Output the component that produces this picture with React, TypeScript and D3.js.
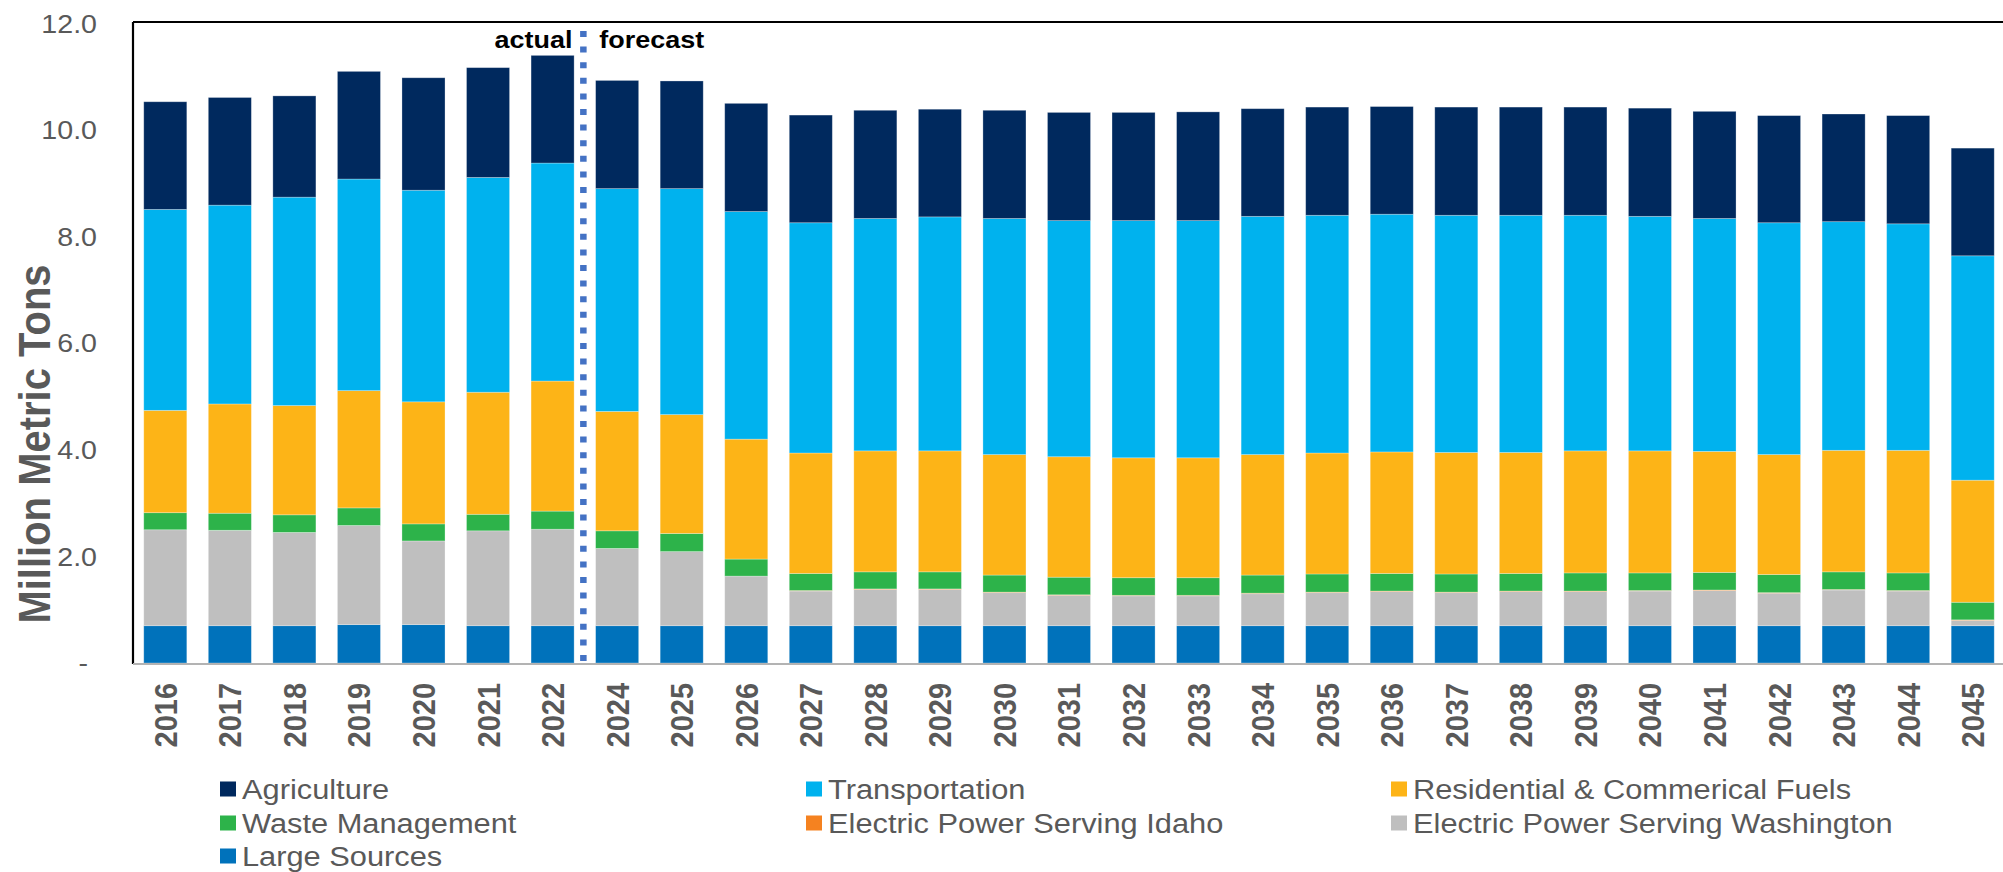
import * as d3 from 'd3'
import React, { useEffect, useRef } from 'react'

const years = [
  '2016', '2017', '2018', '2019', '2020', '2021', '2022', '2024', '2025', '2026',
  '2027', '2028', '2029', '2030', '2031', '2032', '2033', '2034', '2035', '2036',
  '2037', '2038', '2039', '2040', '2041', '2042', '2043', '2044', '2045',
]

// million metric tons
const largeSources = [
  0.7, 0.7, 0.7, 0.72, 0.72, 0.7, 0.7, 0.7, 0.7, 0.7,
  0.7, 0.7, 0.7, 0.7, 0.7, 0.7, 0.7, 0.7, 0.7, 0.7,
  0.7, 0.7, 0.7, 0.7, 0.7, 0.7, 0.7, 0.7, 0.7,
]
const powerWashington = [
  1.8, 1.79, 1.75, 1.86, 1.57, 1.78, 1.81, 1.45, 1.39, 0.93,
  0.65, 0.68, 0.68, 0.62, 0.57, 0.56, 0.56, 0.6, 0.62, 0.64,
  0.62, 0.64, 0.64, 0.65, 0.66, 0.61, 0.67, 0.65, 0.1,
]
const powerIdaho = [
  0, 0, 0, 0, 0, 0, 0, 0, 0, 0,
  0.01, 0.01, 0.01, 0.01, 0.01, 0.01, 0.01, 0.01, 0.01, 0.01,
  0.01, 0.01, 0.01, 0.01, 0.01, 0.01, 0.01, 0.01, 0.01,
]
const waste = [
  0.32, 0.32, 0.33, 0.33, 0.32, 0.31, 0.34, 0.33, 0.34, 0.32,
  0.32, 0.32, 0.32, 0.32, 0.33, 0.33, 0.33, 0.34, 0.34, 0.33,
  0.34, 0.33, 0.34, 0.33, 0.33, 0.34, 0.33, 0.33, 0.33,
]
const residential = [
  1.92, 2.05, 2.05, 2.2, 2.29, 2.29, 2.44, 2.24, 2.23, 2.25,
  2.26, 2.27, 2.27, 2.26, 2.26, 2.25, 2.25, 2.26, 2.27, 2.28,
  2.28, 2.27, 2.29, 2.29, 2.27, 2.25, 2.28, 2.3, 2.29,
]
const transportation = [
  3.77, 3.73, 3.91, 3.97, 3.97, 4.03, 4.09, 4.18, 4.24, 4.27,
  4.32, 4.36, 4.39, 4.43, 4.43, 4.45, 4.45, 4.47, 4.46, 4.46,
  4.45, 4.45, 4.42, 4.4, 4.37, 4.35, 4.29, 4.25, 4.21,
]
const agriculture = [
  2.02, 2.02, 1.9, 2.02, 2.11, 2.06, 2.02, 2.03, 2.02, 2.03,
  2.02, 2.03, 2.02, 2.03, 2.03, 2.03, 2.04, 2.02, 2.03, 2.02,
  2.03, 2.03, 2.03, 2.03, 2.01, 2.01, 2.02, 2.03, 2.02,
]

// stacking order, bottom to top
const stackKeys = ['large', 'wash', 'idaho', 'waste', 'res', 'trans', 'agri']
const labels: Record<string, string> = {
  agri: 'Agriculture',
  trans: 'Transportation',
  res: 'Residential & Commerical Fuels',
  waste: 'Waste Management',
  idaho: 'Electric Power Serving Idaho',
  wash: 'Electric Power Serving Washington',
  large: 'Large Sources',
}
const colors: Record<string, string> = {
  agri: '#00295E',
  trans: '#00B2EE',
  res: '#FDB417',
  waste: '#2DB34A',
  idaho: '#F58220',
  wash: '#BFBFBF',
  large: '#0072BB',
}
const legendOrder = ['agri', 'trans', 'res', 'waste', 'idaho', 'wash', 'large']
const yTicks = [0, 2, 4, 6, 8, 10, 12]

const W = 2003
const H = 872
const plot = { left: 133, top: 22, right: 2005, bottom: 663 }
const FONT = "'Liberation Sans', Arial, sans-serif"
const GREY = '#595959'
const STRETCH = 'scale(1.1,1)'

const App = () => {
  const ref = useRef<SVGSVGElement>(null)

  useEffect(() => {
    if (!ref.current) return
    const svg = d3.select(ref.current)
    svg.selectAll('*').remove()

    const rows = years.map((year, i) => ({
      year,
      large: largeSources[i],
      wash: powerWashington[i],
      idaho: powerIdaho[i],
      waste: waste[i],
      res: residential[i],
      trans: transportation[i],
      agri: agriculture[i],
    }))
    const series = d3.stack<any>().keys(stackKeys)(rows)

    const x = d3
      .scaleBand()
      .domain(years)
      .range([plot.left, plot.right])
      .paddingInner(0.333)
      .paddingOuter(0.1667)
    const y = d3.scaleLinear().domain([0, 12]).range([plot.bottom, plot.top + 1.4])

    // bars
    svg
      .append('g')
      .selectAll('g')
      .data(series)
      .join('g')
      .attr('fill', (s) => colors[s.key])
      .selectAll('rect')
      .data((s) => s)
      .join('rect')
      .attr('x', (d) => x(d.data.year) as number)
      .attr('width', x.bandwidth())
      .attr('y', (d) => y(d[1]))
      .attr('height', (d) => Math.max(0, y(d[0]) - y(d[1])))
      .attr('stroke', '#ffffff')
      .attr('stroke-opacity', 0.35)
      .attr('stroke-width', 0.8)

    // frame: black top + left, grey category axis
    svg
      .append('line')
      .attr('x1', plot.left)
      .attr('x2', W)
      .attr('y1', plot.top)
      .attr('y2', plot.top)
      .attr('stroke', '#000')
      .attr('stroke-width', 2.2)
    svg
      .append('line')
      .attr('x1', plot.left)
      .attr('x2', plot.left)
      .attr('y1', plot.top)
      .attr('y2', plot.bottom + 1)
      .attr('stroke', '#000')
      .attr('stroke-width', 2.2)
    svg
      .append('line')
      .attr('x1', plot.left)
      .attr('x2', W)
      .attr('y1', plot.bottom + 1)
      .attr('y2', plot.bottom + 1)
      .attr('stroke', '#B3B3B3')
      .attr('stroke-width', 2)

    // y tick labels
    const yAxis = svg.append('g').attr('font-family', FONT).attr('font-size', 26).attr('fill', GREY)
    yTicks.forEach((v) => {
      yAxis
        .append('g')
        .attr('transform', `translate(${v === 0 ? 88 : 97},${y(v)}) ${STRETCH}`)
        .append('text')
        .attr('text-anchor', 'end')
        .attr('dy', '0.35em')
        .text(v === 0 ? '-' : d3.format('.1f')(v))
    })

    // y title
    svg
      .append('g')
      .attr('transform', `translate(50,444) ${STRETCH} rotate(-90)`)
      .append('text')
      .attr('text-anchor', 'middle')
      .attr('font-family', FONT)
      .attr('font-size', 40)
      .attr('font-weight', 'bold')
      .attr('fill', GREY)
      .text('Million Metric Tons')

    // x labels
    const xAxis = svg
      .append('g')
      .attr('font-family', FONT)
      .attr('font-size', 29)
      .attr('font-weight', 'bold')
      .attr('fill', GREY)
    years.forEach((yr) => {
      const cx = (x(yr) as number) + x.bandwidth() / 2
      xAxis
        .append('g')
        .attr('transform', `translate(${cx},683) ${STRETCH} rotate(-90)`)
        .append('text')
        .attr('text-anchor', 'end')
        .attr('dy', '0.36em')
        .text(yr)
    })

    // actual / forecast divider
    const divX = (x('2024') as number) - (x.step() - x.bandwidth()) / 2 - 1.5
    svg
      .append('line')
      .attr('x1', divX)
      .attr('x2', divX)
      .attr('y1', 31)
      .attr('y2', plot.bottom)
      .attr('stroke', '#4472C4')
      .attr('stroke-width', 6.5)
      .attr('stroke-dasharray', '6 9.6')
    const note = svg
      .append('g')
      .attr('font-family', FONT)
      .attr('font-size', 24.5)
      .attr('font-weight', 'bold')
      .attr('fill', '#000')
    note
      .append('g')
      .attr('transform', `translate(${divX - 11},48) ${STRETCH}`)
      .append('text')
      .attr('text-anchor', 'end')
      .text('actual')
    note
      .append('g')
      .attr('transform', `translate(${divX + 16},48) ${STRETCH}`)
      .append('text')
      .text('forecast')

    // legend
    const legend = svg.append('g').attr('font-family', FONT).attr('font-size', 28).attr('fill', GREY)
    const colX = [220, 806, 1391]
    const rowY = [789, 823, 856]
    legendOrder.forEach((key, i) => {
      const lx = colX[i % 3]
      const ly = rowY[Math.floor(i / 3)]
      const item = legend.append('g').attr('transform', `translate(${lx},${ly})`)
      item.append('rect').attr('x', 0).attr('y', -7.5).attr('width', 16).attr('height', 15).attr('fill', colors[key])
      item
        .append('g')
        .attr('transform', `translate(22,10) ${STRETCH}`)
        .append('text')
        .text(labels[key])
    })
  }, [])

  return (
    <svg
      ref={ref}
      width={W}
      height={H}
      style={{ position: 'absolute', left: 0, top: 0, background: '#fff', display: 'block' }}
    />
  )
}

export default App
